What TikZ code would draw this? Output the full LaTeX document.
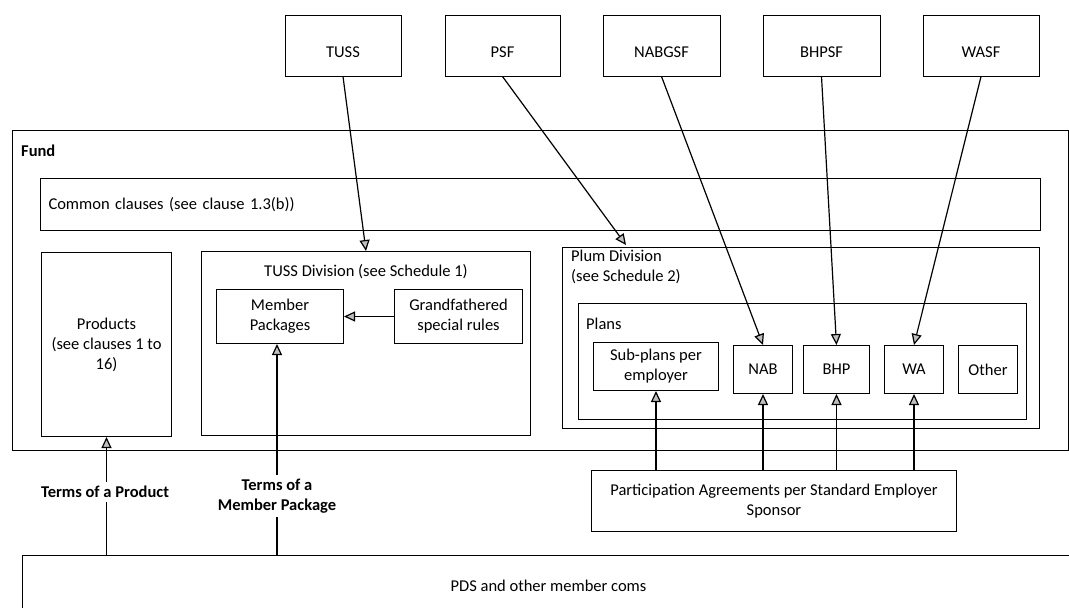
\documentclass[tikz,border=0pt]{standalone}
\usepackage{fontspec}
\setmainfont{Carlito}
\usetikzlibrary{arrows.meta,calc}
\newcommand\dfont{\fontsize{16.5}{20}\selectfont}
\tikzset{
  box/.style={draw, line width=1pt, inner sep=0pt, align=center, font=\dfont},
  nwbox/.style={box, anchor=north west},
  topbox/.style={box, minimum height=61pt, text height=24pt, text depth=0pt},
  txt/.style={inner sep=0pt, font=\dfont, align=left},
  btxt/.style={inner sep=4pt, font=\dfont\bfseries, align=center},
  arr/.style={line width=1.2pt, -{Triangle[length=11pt,width=10pt,fill=gray!50]}},
  ln/.style={line width=1.2pt},
}
\begin{document}
\begin{tikzpicture}[x=1pt,y=-1pt]
\useasboundingbox (0,0) rectangle (1069,608);
\clip (0,0) rectangle (1069,608);

% top boxes
\node[topbox, minimum width=116pt] (tuss)   at (343,45.5)   {TUSS};
\node[topbox, minimum width=115pt] (psf)    at (502.5,45.5) {PSF};
\node[topbox, minimum width=117pt] (nabgsf) at (661.5,45.5) {NABGSF};
\node[topbox, minimum width=117pt] (bhpsf)  at (821.5,45.5) {BHPSF};
\node[topbox, minimum width=116pt] (wasf)   at (981,45.5)   {WASF};

% fund
\node[nwbox, minimum width=1056pt, minimum height=320pt] (fund) at (12,130) {};
\node[txt, anchor=west, font=\dfont\bfseries] (fundlbl) at (21,151) {Fund};

\node[nwbox, minimum width=1000pt, minimum height=52pt, text width=984pt, inner xsep=8pt, align=left] (common) at (40,178) {Common clauses (see clause 1.3(b))};

\node[nwbox, minimum width=130pt, minimum height=184pt] (prod) at (41,252) {Products\\(see clauses 1 to\\16)};

\node[nwbox, minimum width=329pt, minimum height=184pt] (tussdiv) at (201,251) {};
\node[txt] (tussdivlbl) at (366,272) {TUSS Division (see Schedule 1)};
\node[nwbox, minimum width=127pt, minimum height=54pt] (mp) at (216,289) {Member\\Packages};
\node[nwbox, minimum width=128pt, minimum height=54pt] (gf) at (394,289) {Grandfathered\\special rules};

\node[nwbox, minimum width=477pt, minimum height=181pt] (plum) at (562,247) {};
\node[txt, anchor=north west] (plumlbl) at (571,250) {Plum Division\\(see Schedule 2)};
\node[nwbox, minimum width=448pt, minimum height=116pt] (plans) at (578,303) {};
\node[txt, anchor=west] (planslbl) at (586,324) {Plans};
\node[nwbox, minimum width=125pt, minimum height=48pt] (sub)   at (593,342) {Sub-plans per\\employer};
\node[nwbox, minimum width=59pt,  minimum height=48pt] (nab)   at (733,345) {NAB};
\node[nwbox, minimum width=66pt,  minimum height=48pt] (bhp)   at (803,345) {BHP};
\node[nwbox, minimum width=59pt,  minimum height=48pt] (wa)    at (884,345) {WA};
\node[nwbox, minimum width=59pt,  minimum height=48pt] (other) at (958,345) {Other};

% lower part
\node[nwbox, minimum width=365pt, minimum height=61pt] (part) at (591,470) {Participation Agreements per Standard Employer\\Sponsor};
\node[nwbox, minimum width=1052pt, minimum height=60pt] (pds) at (22,555) {PDS and other member coms};

\node[btxt] (termsP) at (105,492) {Terms of a Product};
\node[btxt] (termsM) at (277,496) {Terms of a\\Member Package};
\coordinate (mpin) at ($(mp.south)+(-3,0)$);

% connectors
\draw[arr] (tuss.south) -- (tussdiv.north);
\draw[arr] (psf.south) -- ($(plum.north west)+(64,-2)$);
\draw[arr] (nabgsf.south) -- (nab.north);
\draw[arr] (bhpsf.south) -- (bhp.north);
\draw[arr] (wasf.south) -- (wa.north);

\draw[arr] (gf.west) -- (mp.east);

\draw[ln] (prod.south |- pds.north) -- (prod.south |- termsP.south);
\draw[arr] (prod.south |- termsP.north) -- (prod.south);
\draw[ln] (mpin |- pds.north) -- (mpin |- termsM.south);
\draw[arr] (mpin |- termsM.north) -- (mpin);

\draw[arr] (sub.south |- part.north) -- (sub.south);
\draw[arr] (nab.south |- part.north) -- (nab.south);
\draw[arr] (bhp.south |- part.north) -- (bhp.south);
\draw[arr] (wa.south |- part.north) -- (wa.south);
\end{tikzpicture}
\end{document}
